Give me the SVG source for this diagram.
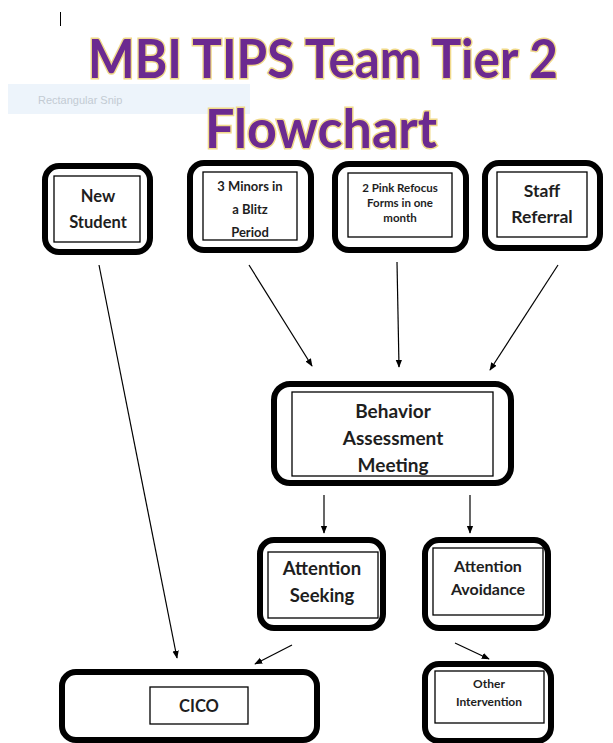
<svg xmlns="http://www.w3.org/2000/svg" width="613" height="743" viewBox="0 0 613 743">
<style>
.outer{fill:#fff;stroke:#000;stroke-width:6}
.inner{fill:#fff;stroke:#000;stroke-width:1.3}
.t{font-family:Lato,"Open Sans","Liberation Sans",sans-serif;font-weight:bold;fill:#1e1e1e;text-anchor:middle}
.title{font-family:Lato,"Open Sans","Liberation Sans",sans-serif;font-weight:bold;fill:#6b2a90;stroke:#f0d98a;stroke-width:3;paint-order:stroke;text-anchor:middle}
.c{stroke:#000;stroke-width:1.2;fill:none;marker-end:url(#ah)}
</style>
<defs>
<marker id="ah" viewBox="0 0 10 10" refX="9" refY="5" markerWidth="8" markerHeight="8" markerUnits="userSpaceOnUse" orient="auto">
<path d="M0,1 L10,5 L0,9 z" fill="#000"/>
</marker>
</defs>
<rect width="613" height="743" fill="#fff"/>
<line x1="60.5" y1="12" x2="60.5" y2="26" stroke="#000" stroke-width="1"/>
<rect x="8" y="84" width="242" height="30" fill="#edf4fb"/>
<text x="38" y="104" font-family="'Liberation Sans',sans-serif" font-size="11" fill="#c3cbd3">Rectangular Snip</text>
<text class="title" x="323" y="78" font-size="54" textLength="470" lengthAdjust="spacingAndGlyphs">MBI TIPS Team Tier 2</text>
<text class="title" x="321" y="148" font-size="54" textLength="232" lengthAdjust="spacingAndGlyphs">Flowchart</text>

<g id="new-student">
<rect class="outer" x="45" y="166" width="105" height="86" rx="14"/>
<rect class="inner" x="54" y="176" width="86" height="66"/>
<text class="t" x="98" y="202" font-size="16.5">New</text>
<text class="t" x="98" y="228" font-size="16.5">Student</text>
</g>
<g id="three-minors">
<rect class="outer" x="190" y="163" width="121" height="87" rx="14"/>
<rect class="inner" x="203" y="172" width="94" height="68"/>
<text class="t" x="250" y="191" font-size="13">3 Minors in</text>
<text class="t" x="250" y="214" font-size="13">a Blitz</text>
<text class="t" x="250" y="237" font-size="13">Period</text>
</g>
<g id="pink-refocus">
<rect class="outer" x="335" y="164" width="131" height="86" rx="14"/>
<rect class="inner" x="348" y="173" width="104" height="64"/>
<text class="t" x="400" y="192" font-size="11.5">2 Pink Refocus</text>
<text class="t" x="400" y="207" font-size="11.5">Forms in one</text>
<text class="t" x="400" y="222" font-size="11.5">month</text>
</g>
<g id="staff-referral">
<rect class="outer" x="485" y="163" width="115" height="85" rx="14"/>
<rect class="inner" x="497" y="172" width="90" height="65"/>
<text class="t" x="542" y="197" font-size="17.5">Staff</text>
<text class="t" x="542" y="223" font-size="17.5">Referral</text>
</g>
<g id="behavior-assessment">
<rect class="outer" x="274" y="384" width="237" height="99" rx="16"/>
<rect class="inner" x="292" y="392" width="201" height="84"/>
<text class="t" x="393" y="418" font-size="19">Behavior</text>
<text class="t" x="393" y="445" font-size="19">Assessment</text>
<text class="t" x="393" y="472" font-size="19">Meeting</text>
</g>
<g id="attention-seeking">
<rect class="outer" x="260" y="540" width="123" height="88" rx="14"/>
<rect class="inner" x="268" y="552" width="110" height="66"/>
<text class="t" x="322" y="575" font-size="18.5">Attention</text>
<text class="t" x="322" y="602" font-size="18.5">Seeking</text>
</g>
<g id="attention-avoidance">
<rect class="outer" x="425" y="540" width="123" height="88" rx="14"/>
<rect class="inner" x="433" y="548" width="110" height="67"/>
<text class="t" x="488" y="572" font-size="16">Attention</text>
<text class="t" x="488" y="595" font-size="16">Avoidance</text>
</g>
<g id="cico">
<rect class="outer" x="62" y="672" width="255" height="68" rx="14"/>
<rect class="inner" x="150" y="687" width="98" height="37"/>
<text class="t" x="199" y="712" font-size="16.5">CICO</text>
</g>
<g id="other-intervention">
<rect class="outer" x="425" y="664" width="126" height="77" rx="14"/>
<rect class="inner" x="435" y="671" width="109" height="52"/>
<text class="t" x="489" y="688" font-size="12">Other</text>
<text class="t" x="489" y="706" font-size="12">Intervention</text>
</g>

<g id="connectors">
<line class="c" x1="99" y1="265" x2="177" y2="658"/>
<line class="c" x1="249" y1="265" x2="312" y2="366"/>
<line class="c" x1="397" y1="262" x2="399" y2="367"/>
<line class="c" x1="558" y1="265" x2="490" y2="370"/>
<line class="c" x1="324" y1="495" x2="324" y2="533"/>
<line class="c" x1="470" y1="495" x2="470" y2="533"/>
<line class="c" x1="292" y1="645" x2="255" y2="664"/>
<line class="c" x1="455" y1="643" x2="489" y2="659"/>
</g>
</svg>
